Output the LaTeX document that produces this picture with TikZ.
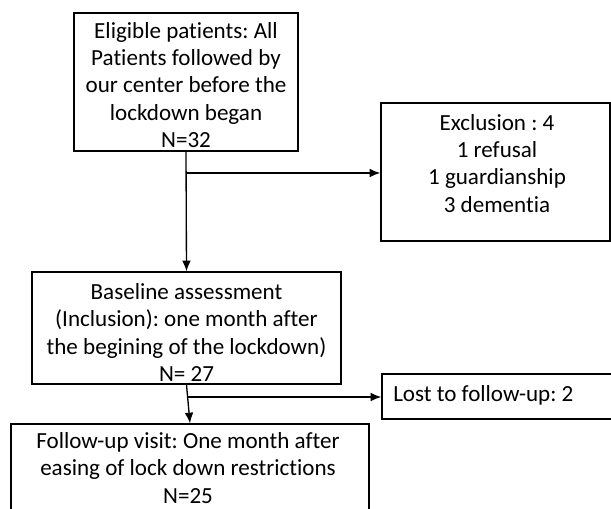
\documentclass[tikz,border=0pt]{standalone}
\usepackage{fontspec}
\setmainfont{Carlito}[RawFeature={-liga}]
\frenchspacing
\usetikzlibrary{arrows.meta}
\begin{document}
\begin{tikzpicture}[x=0.75pt,y=-0.75pt,
  boxnode/.style={draw=black,line width=1pt,inner sep=0pt,fill=white},
  txt/.style={inner sep=0pt,align=center,font=\fontsize{17.3}{20.3}\selectfont},
  conn/.style={draw=black,line width=1pt},
  arr/.style={conn,-{Latex[length=8pt,width=6.5pt]}}]
\useasboundingbox (0,0) rectangle (611,508);
\clip (0,0) rectangle (611,508);
\node[boxnode,minimum width=224*0.75pt,minimum height=138*0.75pt] (b1) at (186,82) {};
\node[boxnode,minimum width=229*0.75pt,minimum height=138*0.75pt] (ex) at (495.5,172) {};
\node[boxnode,minimum width=309*0.75pt,minimum height=112*0.75pt] (b2) at (186.5,328) {};
\node[boxnode,minimum width=240*0.75pt,minimum height=45*0.75pt] (lost) at (502,396.5) {};
\node[boxnode,minimum width=358*0.75pt,minimum height=120*0.75pt] (b3) at (190,484) {};
\node[txt] (t1) at (186,85) {Eligible patients: All\\Patients followed by\\our center before the\\lockdown began\\N=32};
\node[txt] (tex) at (497,163.5) {Exclusion : 4\\1 refusal\\1 guardianship\\3 dementia};
\node[txt] (t2) at (186.5,332.5) {Baseline assessment\\(Inclusion): one month after\\the begining of the lockdown)\\N= 27};
\node[txt,anchor=west] (tlost) at (393,395) {Lost to follow-up: 2};
\node[txt] (t3) at (188,468) {Follow-up visit: One month after\\easing of lock down restrictions\\N=25};
\coordinate (j1) at (186,173);
\coordinate (j2) at (187,397);
\draw[arr] (b1.south) -- (b2.north);
\draw[arr] (j1) -- (ex.west |- j1);
\draw[arr] (b2.south) -- (b3.north);
\draw[arr] (j2) -- (lost.west |- j2);
\end{tikzpicture}
\end{document}
